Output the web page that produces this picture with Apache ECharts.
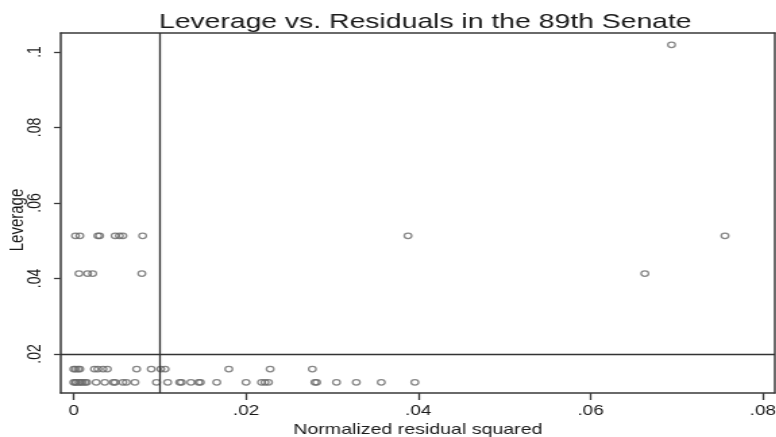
<!DOCTYPE html>
<html>
<head>
<meta charset="utf-8">
<script src="https://cdn.jsdelivr.net/npm/echarts@6/dist/echarts.min.js"></script>
<style>
html,body{margin:0;padding:0;background:#fff;overflow:hidden;}
#wrap{width:776px;height:437px;overflow:hidden;}
#chart{width:575px;height:437px;transform:scaleX(1.35);transform-origin:0 0;}
</style>
</head>
<body>
<div id="wrap"><div id="chart"></div></div>
<script>
// ---- data ----
const titleText = 'Leverage vs. Residuals in the 89th Senate';
const xName = 'Normalized residual squared';
const yName = 'Leverage';
const xTickValues = [0, 0.02, 0.04, 0.06, 0.08];
const xTickLabels = ['0', '.02', '.04', '.06', '.08'];
const yTickValues = [0.02, 0.04, 0.06, 0.08, 0.1];
const yTickLabels = ['.02', '.04', '.06', '.08', '.1'];
const meanResid = 0.0099;   // vertical reference line
const meanLev = 0.0198;     // horizontal reference line

// leverage levels of the horizontal rows of points
const levRowA = 0.0125;
const levRowB = 0.0160;
const levRowC = 0.0413;
const levRowD = 0.0513;

// normalized residual squared for each row
const residRowA = [0.0000, 0.0002, 0.0003, 0.0006, 0.0008, 0.0010, 0.0013, 0.0015,
  0.0026, 0.0036, 0.0046, 0.0048, 0.0057, 0.0061, 0.0071, 0.0096, 0.0109, 0.0123,
  0.0125, 0.0136, 0.0145, 0.0147, 0.0166, 0.0200, 0.0218, 0.0222, 0.0226, 0.0280,
  0.0282, 0.0305, 0.0328, 0.0357, 0.0396];
const residRowB = [0.0000, 0.0002, 0.0005, 0.0007, 0.0024, 0.0028, 0.0034, 0.0039,
  0.0073, 0.0090, 0.0101, 0.0106, 0.0180, 0.0228, 0.0277];
const residRowC = [0.0006, 0.0016, 0.0022, 0.0079, 0.0663];
const residRowD = [0.0002, 0.0007, 0.0028, 0.0030, 0.0048, 0.0053, 0.0057, 0.0080,
  0.0388, 0.0756];
// isolated high-leverage point
const outlierResid = [0.0694];
const outlierLev = [0.1019];

// ---- build point list ----
const points = [];
residRowA.forEach(r => points.push([r, levRowA]));
residRowB.forEach(r => points.push([r, levRowB]));
residRowC.forEach(r => points.push([r, levRowC]));
residRowD.forEach(r => points.push([r, levRowD]));
outlierResid.forEach((r, i) => points.push([r, outlierLev[i]]));

function labelFor(values, labels, v) {
  let best = 0, bd = Infinity;
  values.forEach((t, i) => { const d = Math.abs(t - v); if (d < bd) { bd = d; best = i; } });
  return bd < 1e-6 ? labels[best] : '';
}

const X_MIN = -0.00151, X_MAX = 0.0814, Y_MIN = 0.00967, Y_MAX = 0.10503;
const font = "'Liberation Sans', Arial, Helvetica, sans-serif";
function frameLine() { return {show: true, onZero: false, lineStyle: {color: '#3a3a3a', width: 1.5}}; }
const chart = echarts.init(document.getElementById('chart'), null, {renderer: 'canvas'});
chart.setOption({
  animation: false,
  backgroundColor: '#fff',
  title: {
    text: titleText,
    left: 310,
    textAlign: 'center',
    top: 7,
    textStyle: {fontFamily: font, fontSize: 21, fontWeight: 'normal', color: '#1a1a1a'}
  },
  grid: {
    left: 45, right: 1, top: 33, bottom: 44,
    containLabel: false, outerBoundsMode: 'none',
    show: false
  },
  xAxis: [{
    type: 'value',
    position: 'bottom',
    min: X_MIN, max: X_MAX,
    name: xName, nameLocation: 'middle', nameGap: 26,
    nameTextStyle: {fontFamily: font, fontSize: 14.5, color: '#1a1a1a'},
    axisLine: frameLine(),
    splitLine: {show: false},
    axisTick: {show: true, inside: false, length: 7, customValues: xTickValues,
      lineStyle: {color: '#3a3a3a', width: 1.3}},
    axisLabel: {show: true, margin: 11, customValues: xTickValues,
      fontFamily: font, fontSize: 14, color: '#1a1a1a',
      formatter: v => labelFor(xTickValues, xTickLabels, v)}
  }, {
    type: 'value',
    position: 'top',
    min: X_MIN, max: X_MAX,
    axisLine: frameLine(),
    axisTick: {show: false}, axisLabel: {show: false}, splitLine: {show: false}
  }],
  yAxis: [{
    type: 'value',
    position: 'left',
    min: Y_MIN, max: Y_MAX,
    name: yName, nameLocation: 'middle', nameGap: 25, nameRotate: 90,
    nameMoveOverlap: false,
    nameTextStyle: {fontFamily: font, fontSize: 15, color: '#1a1a1a', padding: [0, 14, 0, 0]},
    axisLine: frameLine(),
    splitLine: {show: false},
    axisTick: {show: true, inside: false, length: 5, customValues: yTickValues,
      lineStyle: {color: '#3a3a3a', width: 1.3}},
    axisLabel: {show: true, margin: 12, rotate: 90, customValues: yTickValues,
      fontFamily: font, fontSize: 14, color: '#1a1a1a',
      formatter: v => labelFor(yTickValues, yTickLabels, v)}
  }, {
    type: 'value',
    position: 'right',
    min: Y_MIN, max: Y_MAX,
    axisLine: frameLine(),
    axisTick: {show: false}, axisLabel: {show: false}, splitLine: {show: false}
  }],
  series: [{
    type: 'scatter',
    data: points,
    symbol: 'circle',
    symbolSize: 5.5,
    itemStyle: {color: 'rgba(255,255,255,0)', borderColor: '#6a6a6a', borderWidth: 1.3},
    markLine: {
      silent: true,
      symbol: ['none', 'none'],
      label: {show: false},
      lineStyle: {color: '#333', width: 1.3, type: 'solid'},
      data: [{xAxis: meanResid}, {yAxis: meanLev}]
    }
  }]
});
</script>
</body>
</html>
